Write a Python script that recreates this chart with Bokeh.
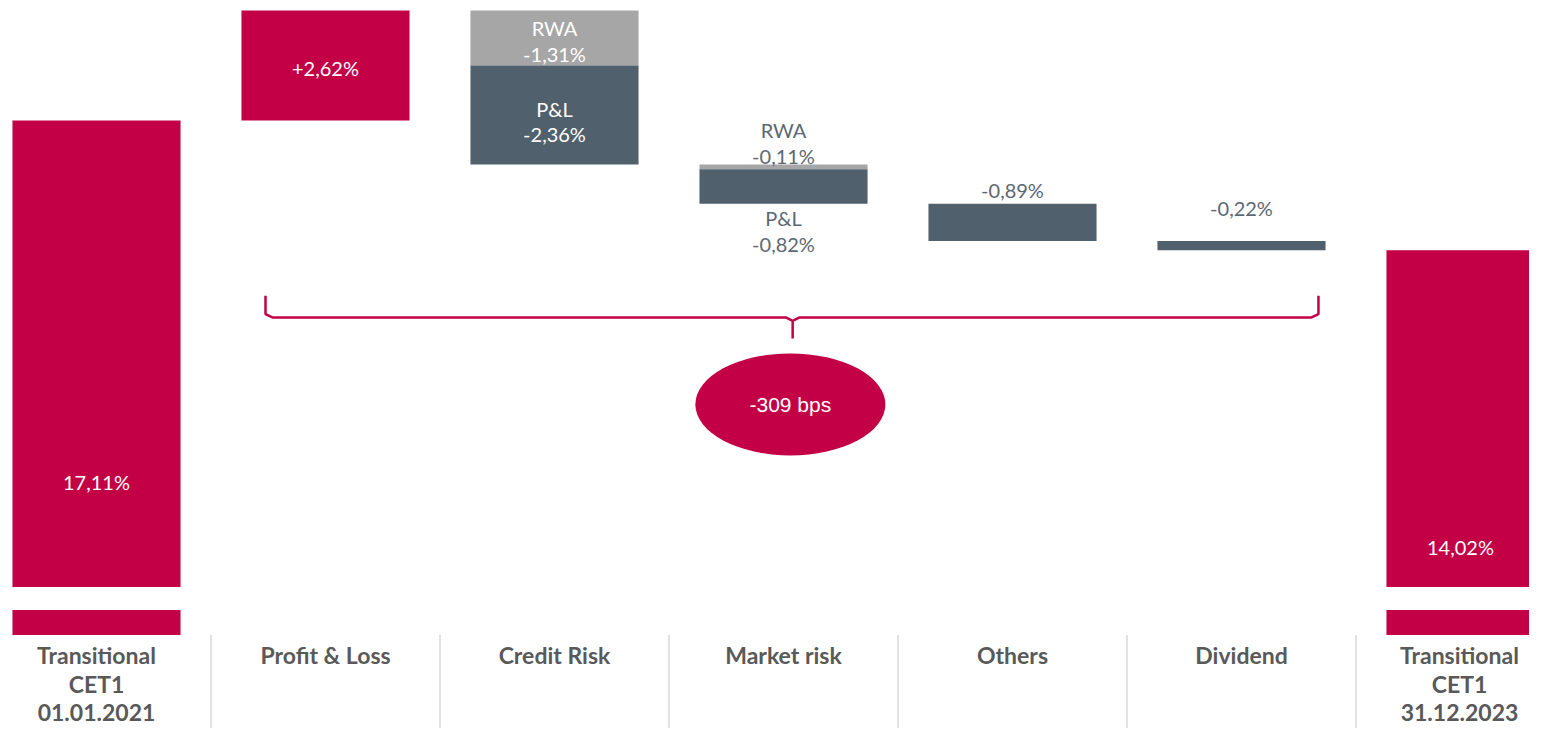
from bokeh.plotting import figure
from bokeh.models import Range1d
from bokeh.core.properties import value
from bokeh.embed import file_html
from bokeh.resources import INLINE

# ---------------- data ----------------
categories = ["Transitional\nCET1\n01.01.2021", "Profit & Loss", "Credit Risk",
              "Market risk", "Others", "Dividend", "Transitional\nCET1\n31.12.2023"]
start_cet1 = 17.11
end_cet1 = 14.02
rwa_delta = [0.0, -1.31, -0.11, 0.0, 0.0]     # Profit & Loss .. Dividend
pl_delta = [2.62, -2.36, -0.82, -0.89, -0.22]
total_change_bps = -309

# ---------------- style ----------------
CRIMSON = "#C30045"
SLATE = "#50616D"
GREY = "#A6A6A6"
VAL_TXT = "#5B6873"
CAT_TXT = "#595959"
FONT = value("Lato")

PX = 42.0          # pixels per percentage point
CAT_PX = 229.0     # pixels per category
W, H = 1529, 728
BAR_W = 0.734

BREAK_Y = 6.0      # bars are cut at this level (broken axis)
STUB_TOP = BREAK_Y - 23 / PX
STUB_BOT = STUB_TOP - 25 / PX

y_top = start_cet1 + 120 / PX
y_bot = y_top - H / PX

p = figure(width=W, height=H, output_backend="svg", toolbar_location=None,
           x_range=Range1d(-96 / CAT_PX, (W - 96) / CAT_PX),
           y_range=Range1d(y_bot, y_top), min_border=0)
p.axis.visible = False
p.grid.visible = False
p.outline_line_color = None
p.background_fill_color = "white"
p.border_fill_color = "white"

def fmt(v, plus=False):
    s = f"{abs(v):.2f}".replace(".", ",")
    if v < 0:
        return "-" + s + "%"
    return ("+" if plus else "") + s + "%"

n = len(categories)
half = BAR_W / 2
VAL_SIZE = "20px"

# start & end bars (broken) + stubs
for i, v in [(0, start_cet1), (n - 1, end_cet1)]:
    p.quad(left=i - half, right=i + half, bottom=BREAK_Y, top=v,
           fill_color=CRIMSON, line_color=None)
    p.quad(left=i - half, right=i + half, bottom=STUB_BOT, top=STUB_TOP,
           fill_color=CRIMSON, line_color=None)
    p.text(x=[i], y=[v / 2], text=[fmt(v)], text_color="white", text_font=FONT,
           text_font_size=VAL_SIZE, text_align="center", text_baseline="middle",
           y_offset=2, x_offset=(-10 if i == n - 1 else 0))

# waterfall steps
cur = start_cet1
tx, ty, tt, tc, toff = [], [], [], [], []
for k, (r, d) in enumerate(zip(rwa_delta, pl_delta)):
    i = k + 1
    if r != 0:
        b, t = cur + r, cur
        p.quad(left=i - half, right=i + half, bottom=b, top=t,
               fill_color=GREY, line_color=None)
        hpx = (t - b) * PX
        if hpx > 45:
            for j, line in enumerate(["RWA", fmt(r)]):
                tx.append(i); ty.append((t + b) / 2); tt.append(line)
                tc.append("white"); toff.append(-10 + 26 * j)
        else:
            for j, line in enumerate(["RWA", fmt(r)]):
                tx.append(i); ty.append(t); tt.append(line)
                tc.append(VAL_TXT); toff.append(-35 + 26 * j)
        cur += r
    b, t = min(cur, cur + d), max(cur, cur + d)
    col = CRIMSON if d > 0 else SLATE
    p.quad(left=i - half, right=i + half, bottom=b, top=t,
           fill_color=col, line_color=None)
    hpx = (t - b) * PX
    if d > 0:
        tx.append(i); ty.append((t + b) / 2); tt.append(fmt(d, plus=True))
        tc.append("white"); toff.append(3)
    elif r != 0 and hpx > 45:
        for j, line in enumerate(["P&L", fmt(d)]):
            tx.append(i); ty.append((t + b) / 2); tt.append(line)
            tc.append("white"); toff.append(-6 + 25 * j)
    elif r != 0:
        for j, line in enumerate(["P&L", fmt(d)]):
            tx.append(i); ty.append(b); tt.append(line)
            tc.append(VAL_TXT); toff.append(14 + 26 * j)
    else:
        off = -14 if hpx > 20 else -33
        tx.append(i); ty.append(t); tt.append(fmt(d))
        tc.append(VAL_TXT); toff.append(off)
    cur += d

for x, y, t, c, o in zip(tx, ty, tt, tc, toff):
    p.text(x=[x], y=[y], text=[t], text_color=c, text_font=FONT,
           text_font_size=VAL_SIZE, text_align="center", text_baseline="middle",
           y_offset=o)

# category separators
sep_x = [i + 0.5 for i in range(n - 1)]
p.segment(x0=sep_x, y0=[STUB_BOT] * len(sep_x), x1=sep_x, y1=[y_bot] * len(sep_x),
          line_color="#D9D9D9", line_width=1.5)

# category labels (bold, multi-line)
lx, ly, lt, lo, lxo = [], [], [], [], []
for i, c in enumerate(categories):
    for j, line in enumerate(c.split("\n")):
        lx.append(i); ly.append(STUB_BOT); lt.append(line); lo.append(20 + 28.5 * j)
        lxo.append(-11 if i == n - 1 else 0)
for x, y, t, o, xo in zip(lx, ly, lt, lo, lxo):
    p.text(x=[x], y=[y], text=[t], text_color=CAT_TXT, text_font=FONT,
           text_font_style="bold", text_font_size="23px", text_align="center",
           text_baseline="middle", y_offset=o, x_offset=xo)

# brace annotation spanning the steps
xL, xR, xC = 1 - 0.262, 5 + 0.336, 3.04
yT, yH, yP = 12.94, 12.42, 11.92
dx, dy = 0.03, 0.08
bx = [xL, xL, xL + dx, xC - dx, xC, xC, xC, xC + dx, xR - dx, xR, xR]
by = [yT, yH + dy, yH, yH, yH - dy, yP, yH - dy, yH, yH, yH + dy, yT]
p.line(bx, by, line_color=CRIMSON, line_width=2.5)

# total change bubble
p.ellipse(x=[3.03], y=[10.35], width=[0.83], height=[2.43],
          fill_color=CRIMSON, line_color=None)
p.text(x=[3.03], y=[10.35], text=[f"{total_change_bps} bps"], text_color="white",
       text_font=value("Liberation Sans"), text_font_size="21px",
       text_align="center", text_baseline="middle")

open("out.html", "w").write(file_html(p, INLINE))
